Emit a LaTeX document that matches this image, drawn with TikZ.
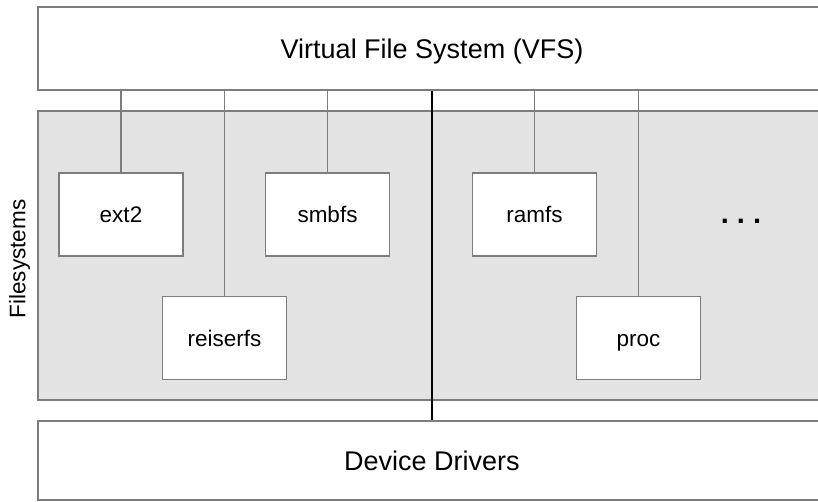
\documentclass[tikz,border=0pt]{standalone}
\usepackage{fontspec}
\setmainfont{Liberation Sans}
\usetikzlibrary{positioning}
\definecolor{fsgray}{RGB}{227,227,227}
\definecolor{linegray}{RGB}{125,125,125}

\begin{document}
\begin{tikzpicture}[x=1pt,y=-1pt,line width=1.2pt,
  layer/.style={draw=linegray,fill=white,minimum width=788pt,minimum
    height=83pt,inner sep=0pt,text height=19.5pt,text depth=0pt,
    font=\fontsize{27}{32}\selectfont},
  fs node/.style={draw=linegray,fill=white,minimum width=124pt,minimum
    height=83pt,inner sep=0pt,text height=16.5pt,text depth=0pt,
    font=\fontsize{22.5}{27}\selectfont},
  link/.style={draw=linegray}]

    \useasboundingbox (0,0) rectangle (818,501);
    \clip (0,0) rectangle (818,501);

    % the three layers
    \node[layer] (vfs) at (432,48.5) {Virtual File System (VFS)};
    \node[layer,fill=fsgray,minimum height=289pt] (fs) at (432,255.5) {};
    \node[layer,minimum height=79pt] (dd) at (432,460.5) {Device Drivers};

    \node[rotate=90,inner sep=0pt,text height=16.5pt,text depth=0pt,
      font=\fontsize{22.5}{27}\selectfont] (fslabel) at (17,259) {Filesystems};

    % filesystems
    \node[fs node] (ext2) at (121,214.5) {ext2};
    \node[fs node] (reiserfs) at (224.5,338) {reiserfs};
    \node[fs node] (smbfs) at (327.5,214.5) {smbfs};
    \node[fs node] (ramfs) at (534.5,214.5) {ramfs};
    \node[fs node] (proc) at (638.5,338) {proc};
    \node[anchor=base,inner sep=0pt,font=\fontsize{29}{34}\selectfont\bfseries]
      (dots) at (741,223) {\frenchspacing. . .};

    \draw[link] (vfs.south -| ext2.north) -- (ext2.north);
    \draw[link] (vfs.south -| reiserfs.north) -- (reiserfs.north);
    \draw[link] (vfs.south -| smbfs.north) -- (smbfs.north);
    \draw[link] (vfs.south -| ramfs.north) -- (ramfs.north);
    \draw[link] (vfs.south -| proc.north) -- (proc.north);
    \draw[line width=2.6pt] (vfs.south) -- (dd.north);
\end{tikzpicture}
\end{document}
